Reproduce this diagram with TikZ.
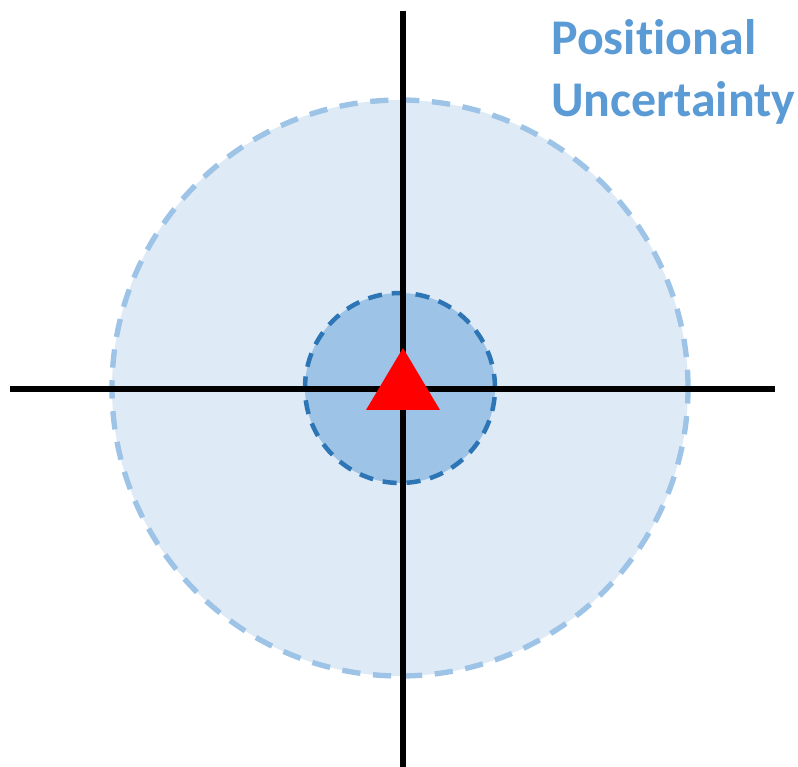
\documentclass[tikz,border=0pt]{standalone}
\usepackage{fontspec}
\setsansfont{Carlito}[Ligatures=NoCommon]
\usetikzlibrary{positioning}
\definecolor{outerfill}{HTML}{DEEAF6}
\definecolor{outerline}{HTML}{9DC3E6}
\definecolor{innerfill}{HTML}{9DC3E6}
\definecolor{innerline}{HTML}{2E75B6}
\definecolor{labelcol}{HTML}{5B9BD5}

\begin{document}
\begin{tikzpicture}[x=0.025cm, y=-0.025cm,
  zone/.style={circle, inner sep=0pt, line width=3.8pt},
  axis/.style={line width=4.3pt, black},
  label/.style={font=\sffamily\bfseries\fontsize{35.5}{44.5}\selectfont, text=labelcol, align=left}]
  \useasboundingbox (0,0) rectangle (798,767);
  % uncertainty regions
  \node[zone, fill=outerfill, draw=outerline, minimum size=576*0.025cm,
        dash pattern=on 13pt off 9pt] (outer) at (400,388) {};
  \node[zone, fill=innerfill, draw=innerline, line width=3.2pt, minimum size=190*0.025cm,
        dash pattern=on 10pt off 7pt] (inner) at (400,388) {};
  % axes
  \coordinate (west)  at (10,389);
  \coordinate (east)  at (775,389);
  \coordinate (north) at (403,11);
  \coordinate (south) at (403,767);
  \draw[axis] (west) -- (east);
  \draw[axis] (north) -- (south);
  % station
  \fill[red] (403,348) -- (440,410) -- (366,410) -- cycle;
  \node[label, anchor=base west, inner sep=0pt] (title) at (551,117) {Positional\\Uncertainty};
\end{tikzpicture}
\end{document}
